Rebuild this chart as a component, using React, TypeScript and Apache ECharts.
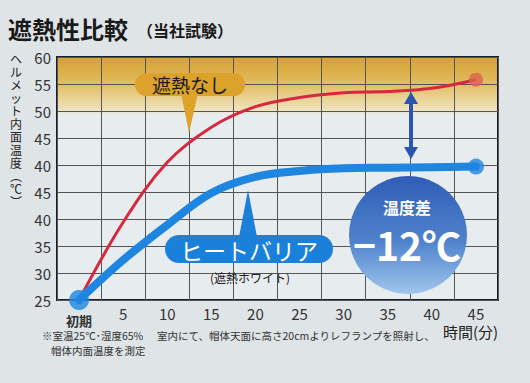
import React, { useEffect, useRef } from "react";
import * as echarts from "echarts";

const categories = ["初期", "5", "10", "15", "20", "25", "30", "35", "40", "45"];
const yTickLabels = ["25", "30", "35", "40", "45", "40", "45", "50", "55", "60"];
const noShieldTemps = [25, 39.4, 50.5, 57.0, 60.8, 62.5, 63.4, 63.6, 64.2, 65.8];
const heatBarrierTemps = [25, 32.4, 38.9, 44.8, 47.8, 48.9, 49.4, 49.5, 49.6, 49.7];
const yAxisTitleChars = ["ヘ", "ル", "メ", "ッ", "ト", "内", "面", "温", "度", "︵", "℃", "︶"];

const FONT = '"Noto Sans CJK JP", "Noto Sans", sans-serif';

export default function App() {
  const ref = useRef<HTMLDivElement>(null);
  useEffect(() => {
    if (!ref.current) return;
    const chart = echarts.init(ref.current, undefined, { renderer: "svg" });
    const last = categories.length - 1;
    const yTitle = yAxisTitleChars.map((ch, i) => ({
      type: "text",
      x: 16,
      y: 58 + i * 13,
      style: {
        text: ch,
        fontSize: 12,
        lineHeight: 12,
        align: "center",
        verticalAlign: "middle",
        fill: "#222",
        fontFamily: FONT,
      },
    }));
    const option: any = {
      animation: false,
      backgroundColor: "#dfe4e7",
      textStyle: { fontFamily: FONT },
      grid: {
        left: 57,
        right: 32,
        top: 57,
        bottom: 83,
        show: true,
        borderColor: "#1b1b2b",
        borderWidth: 2,
        backgroundColor: new echarts.graphic.LinearGradient(0, 0, 0, 1, [
          { offset: 0, color: "#d4a032" },
          { offset: 0.11, color: "#e2bd62" },
          { offset: 0.22, color: "#efe3bf" },
          { offset: 0.235, color: "#e7ecee" },
          { offset: 1, color: "#e7ecef" },
        ]),
      },
      xAxis: {
        type: "category",
        data: categories,
        boundaryGap: true,
        axisLine: { show: false },
        axisTick: { show: false },
        splitLine: { show: true, interval: 0, lineStyle: { color: "#555", width: 1 } },
        axisLabel: {
          interval: 0,
          color: "#333",
          fontSize: 15,
          margin: 6,
          fontFamily: FONT,
          formatter: (v: string) => (v === "初期" ? "{a|初期}" : v),
          rich: { a: { fontSize: 13, fontWeight: "bold", color: "#333", padding: [8, 0, 0, 0], fontFamily: FONT } },
        },
      },
      yAxis: {
        type: "value",
        min: 25,
        max: 70,
        interval: 5,
        axisLine: { show: false },
        axisTick: { show: false },
        splitLine: { show: true, lineStyle: { color: "#555", width: 1 } },
        axisLabel: {
          color: "#333",
          fontSize: 15,
          margin: 6,
          fontFamily: FONT,
          formatter: (v: number) => yTickLabels[Math.round((v - 25) / 5)] ?? "",
        },
      },
      series: [
        {
          type: "line",
          data: noShieldTemps,
          smooth: 0.35,
          symbol: "none",
          lineStyle: { color: "#d8283f", width: 3 },
          z: 3,
        },
        {
          type: "line",
          data: heatBarrierTemps,
          smooth: 0.35,
          symbol: "none",
          lineStyle: { color: "#1e86e0", width: 8, cap: "round" },
          z: 4,
        },
        {
          type: "scatter",
          data: [[categories[last], noShieldTemps[last]]],
          symbolSize: 14,
          itemStyle: { color: "#e0604c" },
          z: 5,
        },
        {
          type: "scatter",
          data: [
            { value: [categories[0], heatBarrierTemps[0]], symbolSize: 20 },
            { value: [categories[last], heatBarrierTemps[last]], symbolSize: 16 },
          ],
          itemStyle: { color: "#1e86e0" },
          z: 6,
        },
      ],
      graphic: [
        {
          type: "text",
          left: 8,
          top: 16,
          style: { text: "遮熱性比較", fontSize: 24, fontWeight: "bold", fill: "#1a1a1a", fontFamily: FONT },
        },
        {
          type: "text",
          left: 137,
          top: 22,
          style: { text: "（当社試験）", fontSize: 16, fontWeight: "bold", fill: "#1a1a1a", fontFamily: FONT },
        },
        ...yTitle,
        // 遮熱なし callout
        {
          type: "polygon",
          shape: { points: [[181, 93], [198, 93], [189, 133]] },
          style: { fill: "#dca22a" },
          z: 100,
        },
        {
          type: "rect",
          shape: { x: 135, y: 73, width: 110, height: 23, r: 11.5 },
          style: { fill: "#dca22a" },
          z: 100,
        },
        {
          type: "text",
          x: 190,
          y: 84.5,
          style: { text: "遮熱なし", fontSize: 19, fill: "#1a1a1a", align: "center", verticalAlign: "middle", fontFamily: FONT },
          z: 101,
        },
        // ヒートバリア callout
        {
          type: "polygon",
          shape: { points: [[239, 237], [257, 237], [248, 190]] },
          style: { fill: "#1a80da" },
          z: 100,
        },
        {
          type: "rect",
          shape: { x: 165, y: 235, width: 168, height: 28, r: 14 },
          style: { fill: "#1a80da" },
          z: 100,
        },
        {
          type: "text",
          x: 249,
          y: 249.5,
          style: { text: "ヒートバリア", fontSize: 23, fill: "#ffffff", align: "center", verticalAlign: "middle", fontFamily: FONT },
          z: 101,
        },
        {
          type: "text",
          x: 250,
          y: 277,
          style: { text: "(遮熱ホワイト)", fontSize: 12, fill: "#222", align: "center", verticalAlign: "middle", fontFamily: FONT },
          z: 101,
        },
        // double arrow
        {
          type: "line",
          shape: { x1: 411, y1: 100, x2: 411, y2: 151 },
          style: { stroke: "#2a55b0", lineWidth: 4 },
          z: 100,
        },
        {
          type: "polygon",
          shape: { points: [[404, 104], [418, 104], [411, 92]] },
          style: { fill: "#2a55b0" },
          z: 100,
        },
        {
          type: "polygon",
          shape: { points: [[404, 147], [418, 147], [411, 159]] },
          style: { fill: "#2a55b0" },
          z: 100,
        },
        // temperature difference circle
        {
          type: "circle",
          shape: { cx: 408, cy: 235, r: 59 },
          style: {
            fill: new echarts.graphic.LinearGradient(0, 0, 0, 1, [
              { offset: 0, color: "#2f5db6" },
              { offset: 0.55, color: "#4f82cc" },
              { offset: 1, color: "#a0c6ec" },
            ]),
          },
          z: 100,
        },
        {
          type: "text",
          x: 407,
          y: 207,
          style: { text: "温度差", fontSize: 16, lineHeight: 16, fontWeight: "bold", fill: "#ffffff", align: "center", verticalAlign: "middle", fontFamily: FONT },
          z: 101,
        },
        {
          type: "text",
          x: 407,
          y: 244,
          style: { text: "−12℃", fontSize: 39, lineHeight: 39, fontWeight: "bold", fill: "#ffffff", align: "center", verticalAlign: "middle", fontFamily: FONT },
          z: 101,
        },
        // footnotes
        {
          type: "text",
          x: 42,
          y: 335,
          style: { text: "※室温25℃･湿度65%", fontSize: 10.5, fill: "#333", verticalAlign: "middle", fontFamily: FONT },
        },
        {
          type: "text",
          x: 51,
          y: 350,
          style: { text: "帽体内面温度を測定", fontSize: 10.5, fill: "#333", verticalAlign: "middle", fontFamily: FONT },
        },
        {
          type: "text",
          x: 157,
          y: 335,
          style: { text: "室内にて、帽体天面に高さ20cmよりレフランプを照射し、", fontSize: 10.5, fill: "#333", verticalAlign: "middle", fontFamily: FONT },
        },
        {
          type: "text",
          x: 443,
          y: 331,
          style: { text: "時間(分)", fontSize: 15, fill: "#222", verticalAlign: "middle", fontFamily: FONT },
        },
      ],
    };
    chart.setOption(option);
    return () => chart.dispose();
  }, []);
  return <div ref={ref} style={{ position: "fixed", left: 0, top: 0, width: 530, height: 383 }} />;
}
